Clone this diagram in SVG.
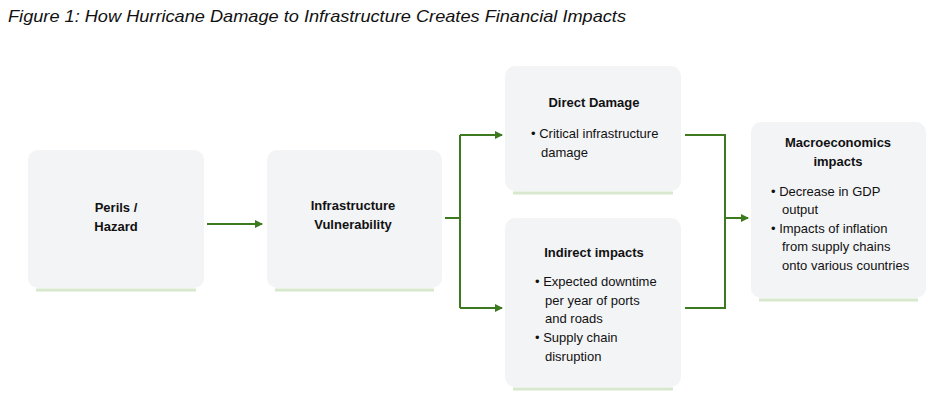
<svg xmlns="http://www.w3.org/2000/svg" width="936" height="404" viewBox="0 0 936 404">
<defs>
<style>
.box{fill:#f3f4f6}
.sh{fill:none;stroke:#d8e8cf;stroke-width:3}
.t{font-family:"Liberation Sans",Arial,sans-serif;font-size:13px;fill:#111}
.b{font-weight:bold;text-anchor:middle}
.c{fill:none;stroke:#3d7a1f;stroke-width:2}
</style>
<marker id="ah" markerWidth="8" markerHeight="8" refX="7" refY="4" orient="auto" markerUnits="userSpaceOnUse"><path d="M0,0 L8,4 L0,8 Z" fill="#3d7a1f"/></marker>
</defs>
<rect width="936" height="404" fill="#fff"/>
<text x="8" y="22" font-family="Liberation Sans,Arial,sans-serif" font-style="italic" font-size="17" fill="#111" textLength="618" lengthAdjust="spacingAndGlyphs">Figure 1: How Hurricane Damage to Infrastructure Creates Financial Impacts</text>
<g id="perils"><path class="sh" d="M36,290 H196"/><rect class="box" x="28" y="150" width="176" height="138" rx="10"/>
<text class="t b" x="116" y="212">Perils /</text><text class="t b" x="116" y="231">Hazard</text></g>
<g id="vuln"><path class="sh" d="M275,290 H434"/><rect class="box" x="267" y="150" width="175" height="138" rx="10"/>
<text class="t b" x="353" y="210">Infrastructure</text><text class="t b" x="353" y="229">Vulnerability</text></g>
<g id="direct"><path class="sh" d="M513,193 H673"/><rect class="box" x="505" y="66" width="176" height="125" rx="10"/>
<text class="t b" x="594" y="107">Direct Damage</text>
<text class="t" x="531" y="138">• Critical infrastructure</text><text class="t" x="541" y="157">damage</text></g>
<g id="indirect"><path class="sh" d="M513,389 H673"/><rect class="box" x="505" y="218" width="176" height="169" rx="10"/>
<text class="t b" x="594" y="257">Indirect impacts</text>
<text class="t" x="535" y="286">• Expected downtime</text><text class="t" x="545" y="305">per year of ports</text><text class="t" x="545" y="323">and roads</text>
<text class="t" x="535" y="342">• Supply chain</text><text class="t" x="545" y="361">disruption</text></g>
<g id="macro"><path class="sh" d="M759,300 H918"/><rect class="box" x="751" y="122" width="175" height="176" rx="10"/>
<text class="t b" x="838" y="147">Macroeconomics</text><text class="t b" x="838" y="166">impacts</text>
<text class="t" x="771" y="196">• Decrease in GDP</text><text class="t" x="782" y="214">output</text>
<text class="t" x="771" y="233">• Impacts of inflation</text><text class="t" x="782" y="251">from supply chains</text><text class="t" x="782" y="270">onto various countries</text></g>
<g id="connectors">
<path class="c" d="M207,224 H262" marker-end="url(#ah)"/>
<path class="c" d="M445,218 H460"/>
<path class="c" d="M460,135 V308"/>
<path class="c" d="M460,135 H502" marker-end="url(#ah)"/>
<path class="c" d="M460,308 H502" marker-end="url(#ah)"/>
<path class="c" d="M685,135 H725 V308 H685"/>
<path class="c" d="M725,218 H748" marker-end="url(#ah)"/>
</g>
</svg>
